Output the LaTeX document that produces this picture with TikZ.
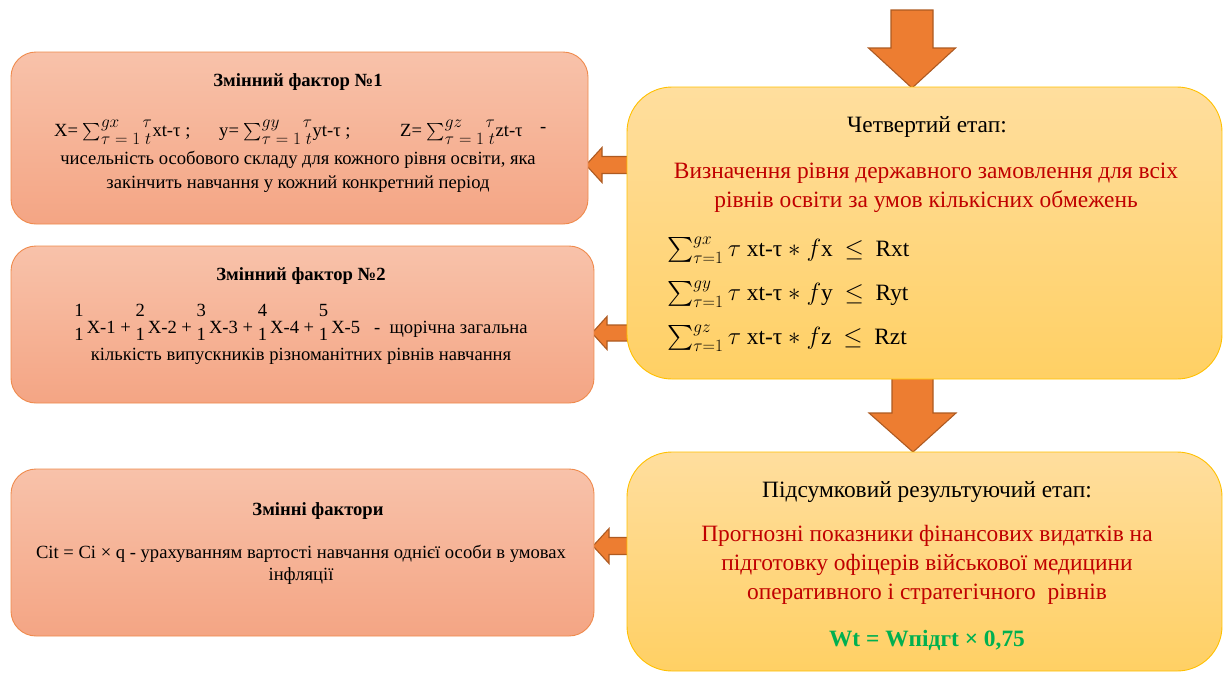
\documentclass[tikz,border=0pt]{standalone}
\usepackage{amsmath}
\usepackage{fontspec}
\setmainfont{Liberation Serif}
\usetikzlibrary{calc}
\definecolor{ltop}{HTML}{F8C2AA}
\definecolor{lbot}{HTML}{F4A584}
\definecolor{lline}{HTML}{EF8A4C}
\definecolor{ytop}{HTML}{FFDE9E}
\definecolor{ybot}{HTML}{FFD064}
\definecolor{yline}{HTML}{FFC000}
\definecolor{arrfill}{HTML}{ED7D31}
\definecolor{arrline}{HTML}{AE5A21}
\definecolor{redc}{HTML}{C00000}
\definecolor{greenc}{HTML}{00B050}
\newcommand\stk[2]{\raisebox{4pt}{\begin{tabular}{@{}c@{}}#1\\[3pt]#2\end{tabular}}}
\begin{document}
\begin{tikzpicture}[x=1pt,y=-1pt,
  lbox/.style={draw=lline, line width=0.9pt, rounded corners=25pt, top color=ltop, bottom color=lbot, inner sep=0pt},
  ybox/.style={draw=yline, line width=0.9pt, rounded corners=45pt, top color=ytop, bottom color=ybot, inner sep=0pt},
  blockarr/.style={fill=arrfill, draw=arrline, line width=1.1pt, line join=miter},
  ltxt/.style={inner sep=0pt, font=\fontsize{18.6}{21}\selectfont},
  ltitle/.style={inner sep=0pt, font=\fontsize{18.6}{21}\selectfont\bfseries},
  rtxt/.style={inner sep=0pt, font=\fontsize{23.4}{29}\selectfont},
  redtxt/.style={rtxt, text=redc},
]
\useasboundingbox (0,0) rectangle (1223,673);

% block arrows (drawn behind the boxes)
\coordinate (tipA) at (912,88);
\coordinate (tipB) at (913,452);
\coordinate (tip1) at (586,165);
\coordinate (tip2) at (592,333);
\coordinate (tip3) at (593,546);
\draw[blockarr] (tipA) -- (868.5,48) -- (891,48) -- (891,10) -- (933,10) -- (933,48) -- (955.5,48) -- cycle;
\draw[blockarr] (tipB) -- (869,413) -- (892,413) -- (892,372) -- (933,372) -- (933,413) -- (956,413) -- cycle;
\draw[blockarr] (tip1) -- (602,147.5) -- (602,156.5) -- (636,156.5) -- (636,173.5) -- (602,173.5) -- (602,182.5) -- cycle;
\draw[blockarr] (tip2) -- (607,316.5) -- (607,325) -- (636,325) -- (636,341) -- (607,341) -- (607,349.5) -- cycle;
\draw[blockarr] (tip3) -- (609,528.5) -- (609,537.5) -- (636,537.5) -- (636,554.5) -- (609,554.5) -- (609,563.5) -- cycle;

% boxes
\node[lbox, minimum width=577pt, minimum height=172pt] (f1) at (299.5,138) {};
\node[lbox, minimum width=583pt, minimum height=157pt] (f2) at (302.5,324.5) {};
\node[lbox, minimum width=583pt, minimum height=167pt] (f3) at (302.5,552.5) {};
\node[ybox, minimum width=595pt, minimum height=292pt] (s4) at (924.5,233) {};
\node[ybox, minimum width=595pt, minimum height=219pt] (s5) at (924.5,561.5) {};

% box 1
\node[ltitle] (t1) at (298,82) {Змінний фактор №1};
\node[ltxt, anchor=west] (f1a) at (54,132) {X= $\sum_{\textstyle\tau = 1\; t}^{\textstyle gx\quad\;\tau}$xt-τ ;};
\node[ltxt, anchor=west] (f1b) at (219,132) {y= $\sum_{\textstyle\tau = 1\; t}^{\textstyle gy\quad\;\tau}$yt-τ ;};
\node[ltxt, anchor=west] (f1c) at (400,132) {Z= $\sum_{\textstyle\tau = 1\; t}^{\textstyle gz\quad\;\tau}$zt-τ};
\node[ltxt, anchor=west] (f1d) at (540,130) {-};
\node[ltxt] (l1a) at (298,160) {чисельність особового складу для кожного рівня освіти, яка};
\node[ltxt] (l1b) at (298,184) {закінчить навчання у кожний конкретний період};

% box 2
\node[ltitle] (t2) at (301,276) {Змінний фактор №2};
\node[ltxt, anchor=base] (f2a) at (301,333) {\stk{1}{1}\,X-1 + \stk{2}{1}\,X-2 + \stk{3}{1}\,X-3 + \stk{4}{1}\,X-4 + \stk{5}{1}\,X-5 \ \ -\ \ щорічна загальна};
\node[ltxt] (l2a) at (301,356) {кількість випускників різноманітних рівнів навчання};

% box 3
\node[ltitle] (t3) at (318,511) {Змінні фактори};
\node[ltxt] (l3a) at (301,554) {Cit = Ci × q - урахуванням вартості навчання однієї особи в умовах};
\node[ltxt] (l3b) at (301,576) {інфляції};

% stage 4
\node[rtxt] (h4) at (927,127) {Четвертий етап:};
\node[redtxt] (r4a) at (926,173) {Визначення рівня державного замовлення для всіх};
\node[redtxt] (r4b) at (926,202) {рівнів освіти за умов кількісних обмежень};
\node[rtxt, anchor=west] (e4a) at (667,250) {$\sum_{\tau=1}^{gx}\tau$ xt-τ $\ast$ $f$x \ $\leq$ \ Rxt};
\node[rtxt, anchor=west] (e4b) at (667,294) {$\sum_{\tau=1}^{gy}\tau$ xt-τ $\ast$ $f$y \ $\leq$ \ Ryt};
\node[rtxt, anchor=west] (e4c) at (667,338) {$\sum_{\tau=1}^{gz}\tau$ xt-τ $\ast$ $f$z \ $\leq$ \ Rzt};

% final stage
\node[rtxt] (h5) at (927,492) {Підсумковий результуючий етап:};
\node[redtxt] (r5a) at (927,536) {Прогнозні показники фінансових видатків на};
\node[redtxt] (r5b) at (927,565) {підготовку офіцерів військової медицини};
\node[redtxt] (r5c) at (927,594) {оперативного і стратегічного\ \ рівнів};
\node[rtxt, text=greenc, font=\fontsize{23.4}{29}\selectfont\bfseries] (g5) at (927,640) {Wt = Wпідгt × 0,75};
\end{tikzpicture}
\end{document}
